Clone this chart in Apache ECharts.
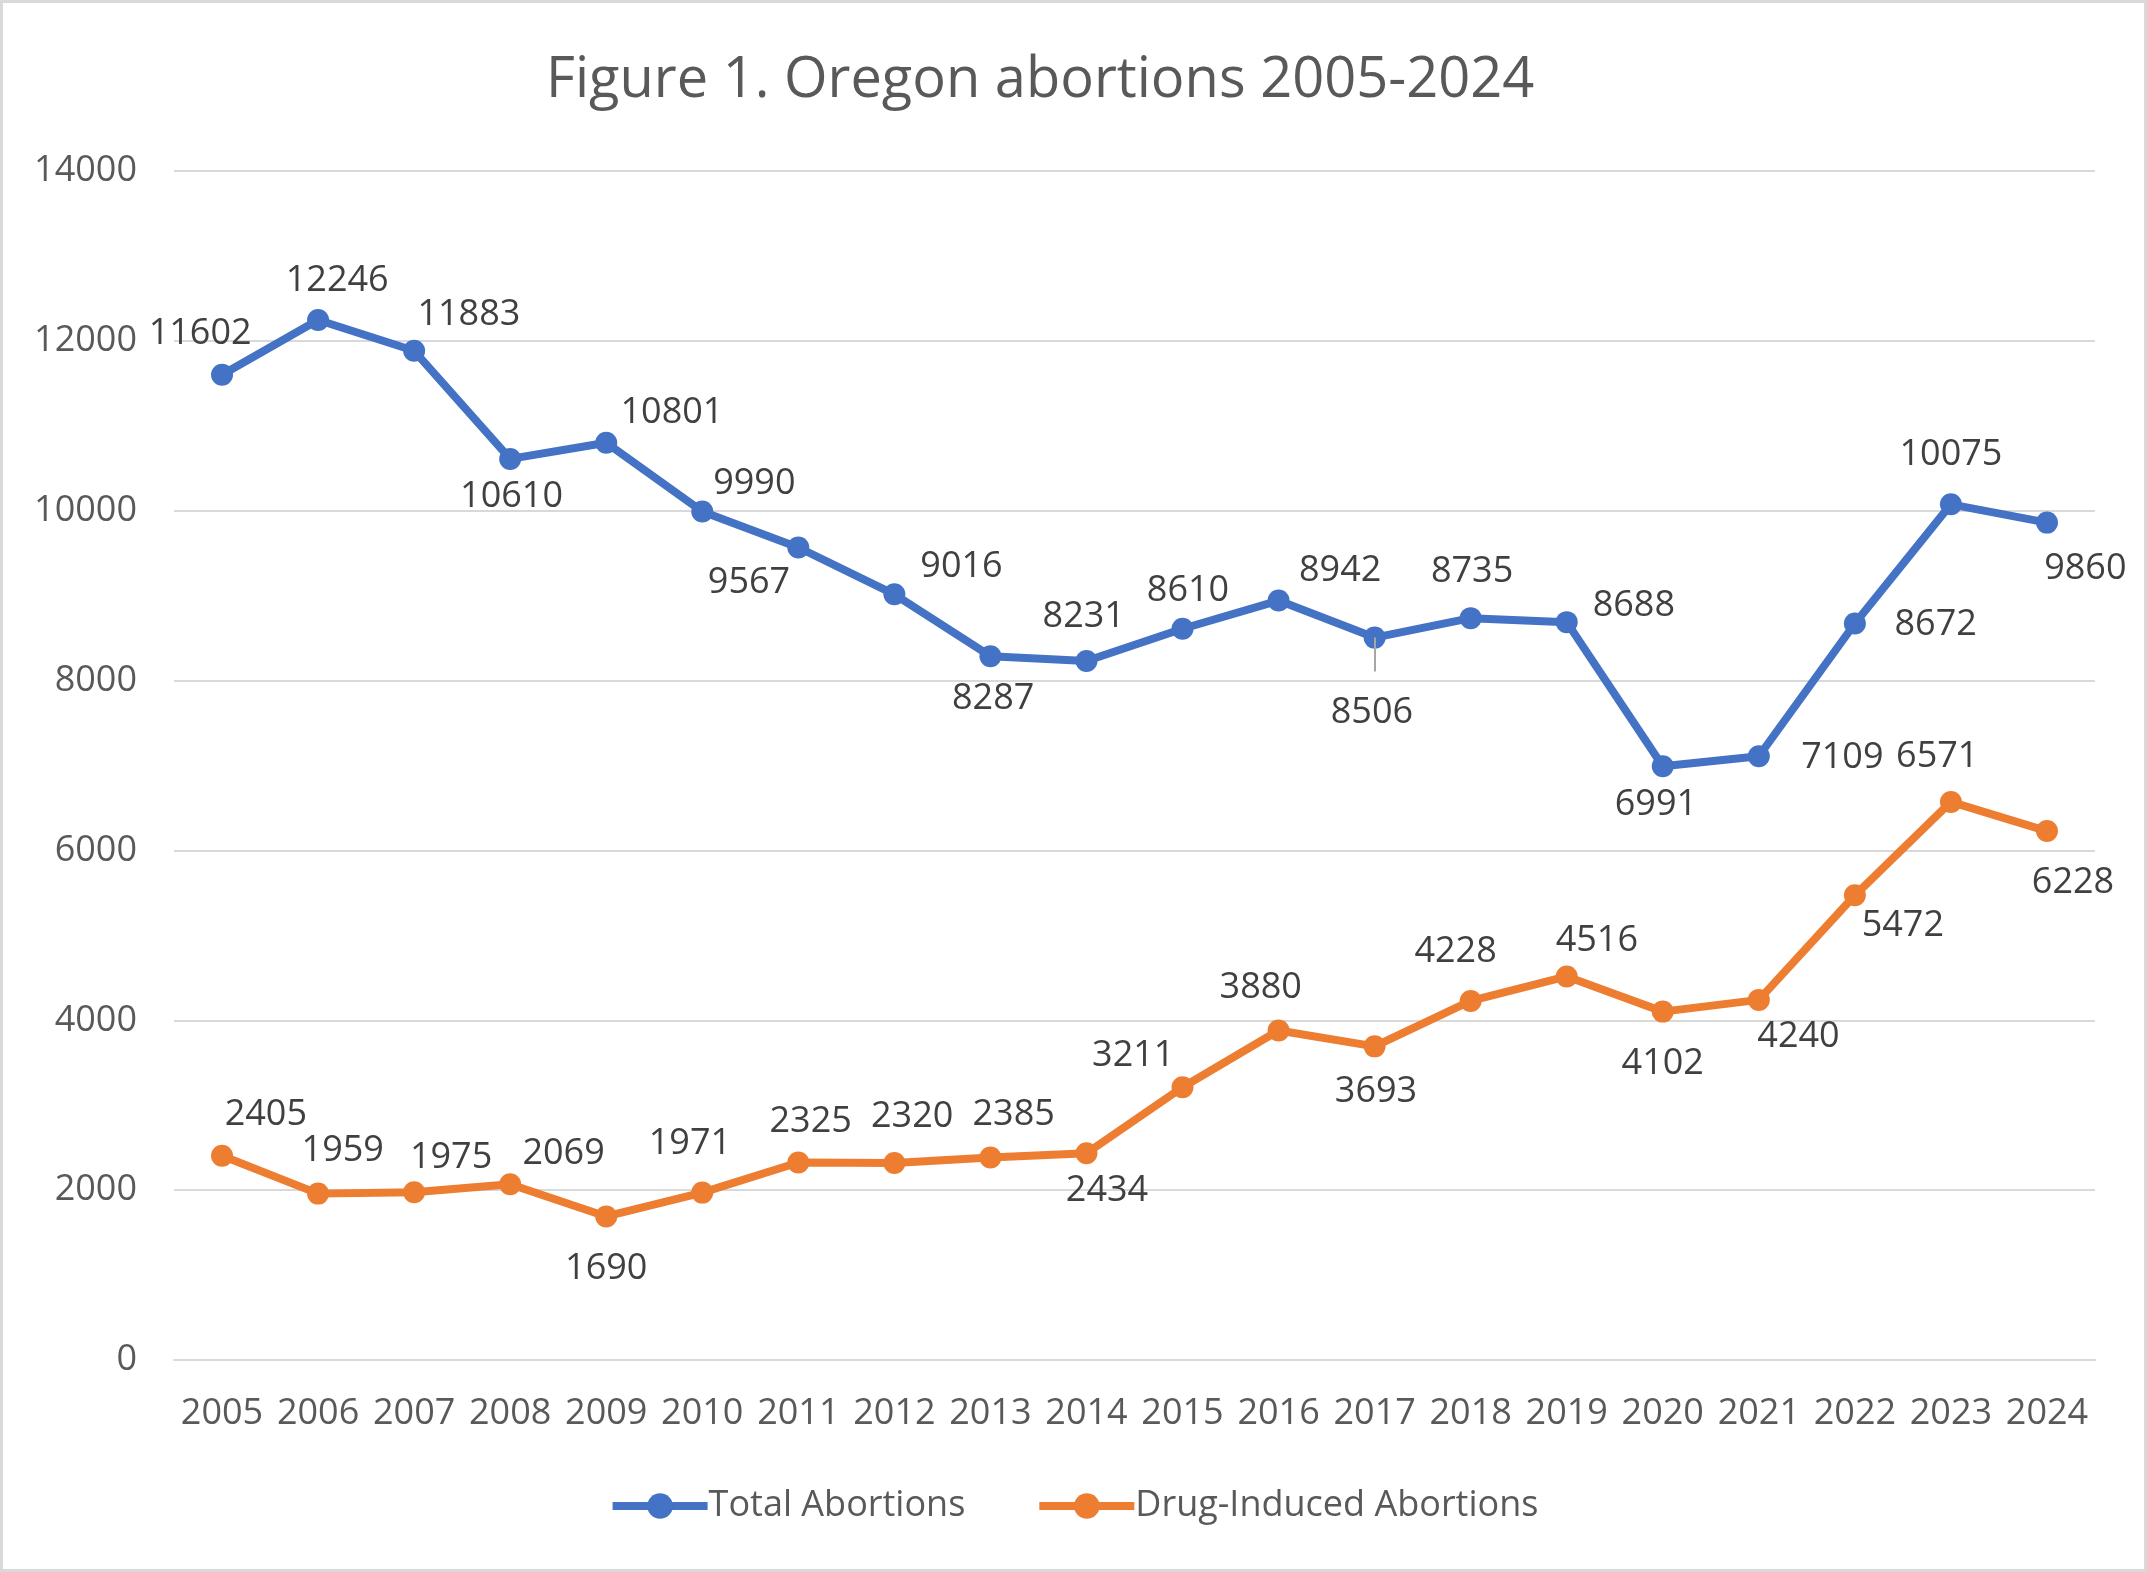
<!DOCTYPE html>
<html><head><meta charset="utf-8">
<script src="https://cdn.jsdelivr.net/npm/echarts@6/dist/echarts.min.js"></script>
<style>html,body{margin:0;padding:0;background:#fff}#c{width:2147px;height:1572px}</style>
</head><body><div id="c"></div>
<script>
const years = ['2005','2006','2007','2008','2009','2010','2011','2012','2013','2014','2015','2016','2017','2018','2019','2020','2021','2022','2023','2024'];
const totalAbortions = [11602,12246,11883,10610,10801,9990,9567,9016,8287,8231,8610,8942,8506,8735,8688,6991,7109,8672,10075,9860];
const drugInduced = [2405,1959,1975,2069,1690,1971,2325,2320,2385,2434,3211,3880,3693,4228,4516,4102,4240,5472,6571,6228];
const yTicks = {min:0, max:14000, interval:2000};

// label offsets from marker centre (layout, in reference display units)
const S = 1.3693;
const totalLabelOffsets = [[-16,-30],[14,-29],[40,-26],[1,28],[48,-22],[38,-20],[-36,26],[49,-20],[2,31],[-2,-32],[4,-28],[45,-22],[-2,55],[1,-34],[49,-12],[-5,28],[61,1],[59,1],[0,-36],[28,34]];
const drugLabelOffsets = [[32,-30],[18,-31],[27,-25],[39,-22],[0,38],[-9,-36],[9,-30],[13,-34],[17,-31],[15,27],[-36,-23],[-13,-31],[1,33],[-11,-36],[22,-26],[0,38],[29,27],[35,22],[-10,-33],[19,38]];

const FONT = 'Open Sans';
const chart = echarts.init(document.getElementById('c'), null, {renderer:'canvas'});

function mkData(vals, offs){
  return vals.map((v,i)=>{
    const o = offs[i];
    return {value:v, label:{offset:[o[0]*S, o[1]*S]}};
  });
}

chart.setOption({
  animation:false,
  backgroundColor:'#fff',
  textStyle:{fontFamily:FONT},
  title:{
    text:'Figure 1. Oregon abortions 2005-2024',
    left:541, top:48,
    textStyle:{fontFamily:FONT, fontSize:56, fontWeight:'normal', color:'#595959'}
  },
  graphic:[{type:'rect', shape:{x:1.5,y:1.5,width:2144,height:1569}, style:{fill:'none', stroke:'#D9D9D9', lineWidth:3}, silent:true}],
  legend:{
    top:1483, left:'center',
    itemWidth:95, itemHeight:32, itemGap:70,
    lineStyle:{width:8},
    textStyle:{fontFamily:FONT, fontSize:36, color:'#595959', padding:[0,0,0,-4]},
    data:['Total Abortions','Drug-Induced Abortions']
  },
  grid:{left:174, right:52, top:171, bottom:212, containLabel:false},
  xAxis:{
    type:'category', data:years, boundaryGap:true,
    axisLine:{show:true, lineStyle:{color:'#D9D9D9', width:2}},
    axisTick:{show:false},
    axisLabel:{fontFamily:FONT, fontSize:36, color:'#595959', margin:36, interval:0}
  },
  yAxis:{
    type:'value', min:yTicks.min, max:yTicks.max, interval:yTicks.interval,
    axisLine:{show:false}, axisTick:{show:false},
    splitLine:{lineStyle:{color:'#D9D9D9', width:2}},
    axisLabel:{fontFamily:FONT, fontSize:36, color:'#595959', margin:37, formatter:(v)=>String(v)}
  },
  series:[
    {
      name:'Total Abortions', type:'line', data:mkData(totalAbortions,totalLabelOffsets),
      color:'#4472C4', symbol:'circle', symbolSize:22,
      lineStyle:{width:8, color:'#4472C4'}, itemStyle:{color:'#4472C4'},
      label:{show:true, position:'inside', fontFamily:FONT, fontSize:36, color:'#404040'}
    },
    {
      name:'Drug-Induced Abortions', type:'line', data:mkData(drugInduced,drugLabelOffsets),
      color:'#ED7D31', symbol:'circle', symbolSize:22,
      lineStyle:{width:8, color:'#ED7D31'}, itemStyle:{color:'#ED7D31'},
      label:{show:true, position:'inside', fontFamily:FONT, fontSize:36, color:'#404040'}
    },
    {
      // leader line for the 2017 total label
      type:'line', silent:true, symbol:'none', data:[],
      markLine:{
        silent:true, symbol:'none', label:{show:false},
        lineStyle:{color:'#A6A6A6', width:2, type:'solid'},
        data:[[{xAxis:'2017', yAxis:totalAbortions[12]}, {xAxis:'2017', yAxis:totalAbortions[12]-400}]]
      }
    }
  ]
});
</script></body></html>
